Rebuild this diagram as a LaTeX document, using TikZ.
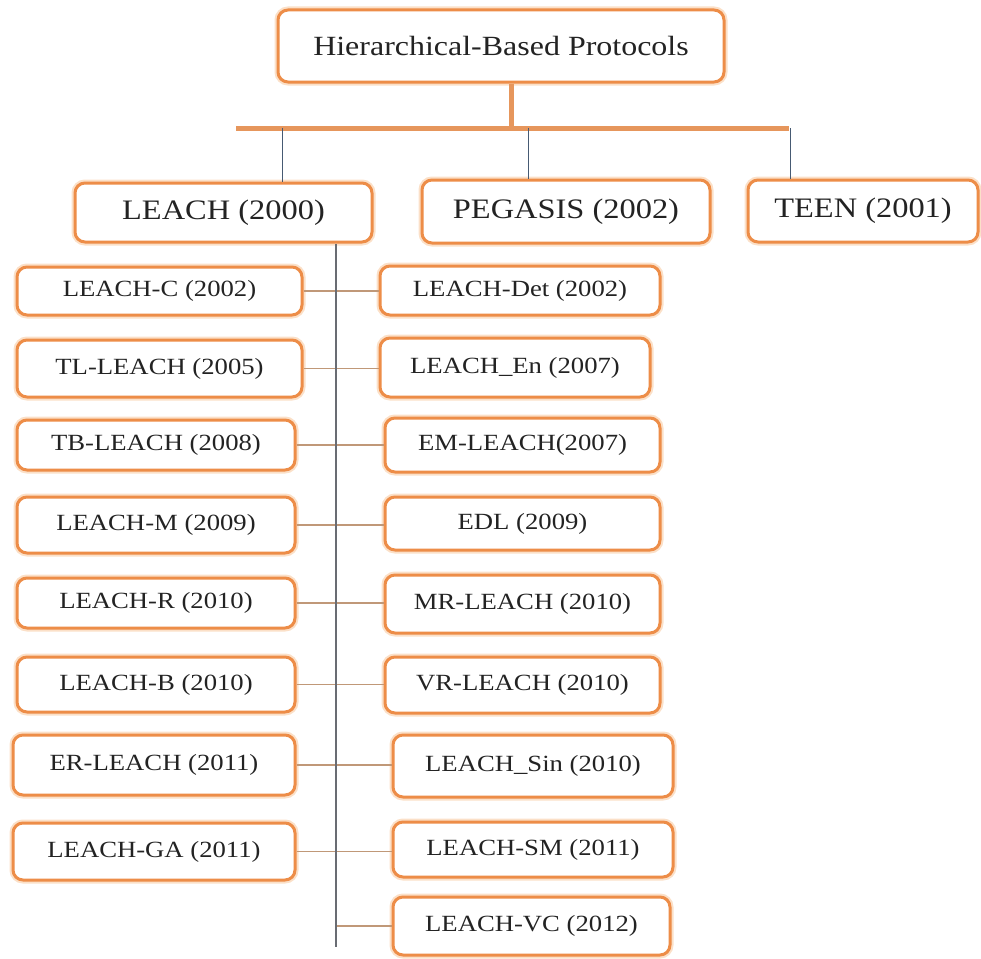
\documentclass[tikz,border=0pt]{standalone}
\usepackage{fontspec}
\setmainfont[FakeStretch=1.15]{Liberation Serif}
\usepackage{tikz}
\usetikzlibrary{calc}
\usepackage{xcolor}
\definecolor{BoxOrange}{RGB}{237, 141, 72}
\definecolor{GlowOrange}{RGB}{251, 224, 200}
\definecolor{BarOrange}{RGB}{230, 150, 92}
\definecolor{BranchBlue}{RGB}{70, 90, 115}
\definecolor{SpineGray}{RGB}{105, 108, 115}
\definecolor{RowTan}{RGB}{192, 152, 120}
\definecolor{TextGray}{RGB}{35, 35, 35}

\begin{document}
\begin{tikzpicture}[x=1pt, y=-1pt,
  proto/.style={draw=BoxOrange, line width=3pt, rounded corners=10pt, fill=white, inner sep=0pt,
    text=TextGray, preaction={draw=GlowOrange, line width=7pt}},
  top/.style={proto, font=\fontsize{27.8}{31}\selectfont},
  main/.style={proto, font=\fontsize{28.2}{31}\selectfont},
  sub/.style={proto, font=\fontsize{23.2}{26}\selectfont},
  trunk/.style={draw=BarOrange, line width=5pt},
  branch/.style={draw=BranchBlue, line width=1pt},
  spine/.style={draw=SpineGray, line width=1.2pt},
  row/.style={draw=RowTan, line width=1.2pt}]

\useasboundingbox (0,0) rectangle (981,958);

% root and the bar under it
\node[top, minimum width=446pt, minimum height=72pt] (hbp) at (501,46) {Hierarchical-Based Protocols};

\coordinate (barl) at (236,128);
\coordinate (barr) at (789,128);
\coordinate (bl) at (282,128);
\coordinate (bp) at (528,128);
\coordinate (bt) at (790,128);

\draw[trunk] ([xshift=10pt]hbp.south) -- ([xshift=10pt]hbp.south |- barl);
\draw[trunk] (barl) -- (barr);

% first level
\node[main, minimum width=297pt, minimum height=59pt] (leach) at (223.5,212.5) {LEACH (2000)};
\node[main, minimum width=288pt, minimum height=63pt] (pegasis) at (566,211.5) {PEGASIS (2002)};
\node[main, minimum width=230pt, minimum height=62pt] (teen) at (863,211) {TEEN (2001)};

\draw[branch] (bl) -- (bl |- leach.north);
\draw[branch] (bp) -- (bp |- pegasis.north);
\draw[branch] (bt) -- (bt |- teen.north);

% LEACH variants, left column
\node[sub, minimum width=285pt, minimum height=48pt] (lc) at (159.5,291) {LEACH-C (2002)};
\node[sub, minimum width=285pt, minimum height=57pt] (tl) at (159.5,368.5) {TL-LEACH (2005)};
\node[sub, minimum width=278pt, minimum height=50pt] (tb) at (156,445) {TB-LEACH (2008)};
\node[sub, minimum width=278pt, minimum height=56pt] (lm) at (156,525) {LEACH-M (2009)};
\node[sub, minimum width=278pt, minimum height=50pt] (lr) at (156,603) {LEACH-R (2010)};
\node[sub, minimum width=278pt, minimum height=55pt] (lb) at (156,684.5) {LEACH-B (2010)};
\node[sub, minimum width=282pt, minimum height=60pt] (er) at (154,765) {ER-LEACH (2011)};
\node[sub, minimum width=282pt, minimum height=57pt] (ga) at (154,851.5) {LEACH-GA (2011)};

% LEACH variants, right column
\node[sub, minimum width=280pt, minimum height=49pt] (det) at (520,290.5) {LEACH-Det (2002)};
\node[sub, minimum width=270pt, minimum height=59pt] (en) at (515,367.5) {LEACH\_En (2007)};
\node[sub, minimum width=275pt, minimum height=54pt] (em) at (522.5,445) {EM-LEACH(2007)};
\node[sub, minimum width=275pt, minimum height=53pt] (edl) at (522.5,523.5) {EDL (2009)};
\node[sub, minimum width=275pt, minimum height=58pt] (mr) at (522.5,604) {MR-LEACH (2010)};
\node[sub, minimum width=275pt, minimum height=56pt] (vr) at (522.5,685) {VR-LEACH (2010)};
\node[sub, minimum width=280pt, minimum height=62pt] (sin) at (533,766) {LEACH\_Sin (2010)};
\node[sub, minimum width=280pt, minimum height=55pt] (sm) at (533,849.5) {LEACH-SM (2011)};
\node[sub, minimum width=277pt, minimum height=58pt] (vc) at (531.5,926) {LEACH-VC (2012)};

% spine and rows
\coordinate (spend) at (336,947);

\draw[row] (lc.east) -- (lc.east -| det.west);
\draw[row] (tl.east) -- (tl.east -| en.west);
\draw[row] (tb.east) -- (tb.east -| em.west);
\draw[row] (lm.east) -- (lm.east -| edl.west);
\draw[row] (lr.east) -- (lr.east -| mr.west);
\draw[row] (lb.east) -- (lb.east -| vr.west);
\draw[row] (er.east) -- (er.east -| sin.west);
\draw[row] (ga.east) -- (ga.east -| sm.west);
\draw[row] (vc.west -| spend) -- (vc.west);

\draw[spine] (leach.south -| spend) -- (spend);

\end{tikzpicture}
\end{document}
